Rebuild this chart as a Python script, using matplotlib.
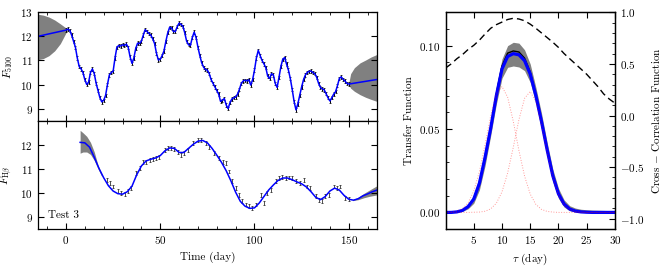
import numpy as np
import matplotlib
matplotlib.use("Agg")
import matplotlib.pyplot as plt
from matplotlib.ticker import MultipleLocator

plt.rcParams.update({
    "font.family": "serif",
    "font.serif": ["cmr10"],
    "mathtext.fontset": "cm",
    "axes.formatter.use_mathtext": True,
    "font.size": 8,
    "axes.linewidth": 0.9,
})

# continuum light curve, one point per day from day 0 to 150
t_cont = np.arange(0, 151)
f_cont = [12.26, 12.30, 12.25, 12.05, 11.80, 11.55, 11.10, 10.75, 10.65, 10.50,
          10.20, 10.00, 10.10, 10.50, 10.65, 10.45, 10.05, 9.75, 9.45, 9.28,
          9.35, 9.55, 10.00, 10.40, 10.50, 10.55, 11.10, 11.55, 11.62, 11.60,
          11.65, 11.62, 11.68, 11.55, 11.15, 10.88, 11.10, 11.50, 11.72, 11.70,
          11.80, 12.05, 12.28, 12.20, 12.12, 12.05, 11.90, 11.70, 11.30, 11.02,
          11.05, 11.20, 11.40, 11.80, 12.15, 12.38, 12.35, 12.20, 12.20, 12.40,
          12.55, 12.50, 12.42, 12.15, 11.80, 11.65, 11.62, 11.95, 12.18, 11.95,
          11.55, 11.20, 10.90, 10.72, 10.62, 10.60, 10.45, 10.20, 10.05, 9.90,
          9.75, 9.60, 9.30, 9.35, 9.42, 9.15, 9.00, 9.25, 9.40, 9.45,
          9.48, 9.60, 9.80, 10.05, 10.15, 10.18, 10.15, 10.20, 9.98, 10.20,
          10.60, 11.10, 11.42, 11.20, 11.00, 10.86, 10.70, 10.35, 10.25, 10.45,
          10.40, 10.05, 9.88, 10.30, 10.75, 11.05, 11.12, 10.85, 10.60, 10.25,
          9.80, 9.30, 8.95, 9.20, 9.55, 9.90, 10.20, 10.40, 10.50, 10.55,
          10.56, 10.50, 10.45, 10.30, 10.05, 9.88, 9.82, 9.78, 9.62, 9.45,
          9.32, 9.45, 9.60, 9.70, 9.95, 10.25, 10.32, 10.22, 10.15, 10.05,
          10.02]
err_cont = 0.07

# reconstruction end points outside the data
cont_left = (-15, 12.0)
cont_right = (165, 10.21)
band_l_t = [-15, -12, -9, -6, -3, 0, 1]
band_l_hi = [12.92, 12.88, 12.80, 12.68, 12.52, 12.35, 12.30]
band_l_lo = [11.03, 11.08, 11.20, 11.40, 11.70, 12.15, 12.30]
band_r_t = [150, 151, 153, 156, 159, 162, 165]
band_r_hi = [10.05, 10.45, 10.70, 10.90, 11.02, 11.15, 11.25]
band_r_lo = [10.00, 9.85, 9.72, 9.58, 9.47, 9.38, 9.30]

# H-beta data
t_hb = [21.5, 23.2, 25.0, 27.6, 29.4, 31.2, 32.9, 34.7, 37.3, 39.1, 40.8, 42.6,
        44.4, 46.1, 47.9, 49.6, 52.3, 54.0, 55.8, 57.5, 59.3, 61.1, 62.8, 64.6,
        67.2, 69.9, 71.6, 74.3, 76.0, 78.7, 81.3, 83.1, 84.8, 86.6, 88.3, 90.1,
        91.9, 93.6, 95.4, 97.1, 98.9, 100.7, 103.3, 105.1, 106.8, 108.6, 111.2,
        113.0, 114.7, 116.5, 118.3, 120.0, 121.8, 124.4, 126.2, 127.9, 129.7,
        132.4, 134.1, 135.8, 137.6, 139.4, 142.0, 143.8, 145.6, 148.2, 150.0]
f_hb = [10.55, 10.41, 10.27, 10.07, 10.00, 9.97, 10.07, 10.21, 10.82, 11.03, 11.30, 11.30,
        11.37, 11.40, 11.44, 11.48, 11.78, 11.88, 11.85, 11.82, 11.71, 11.58, 11.65, 11.78,
        12.06, 12.19, 12.19, 12.06, 11.92, 11.65, 11.44, 11.30, 11.23, 10.89, 10.48, 10.21,
        9.93, 9.65, 9.52, 9.45, 9.38, 9.52, 9.90, 9.59, 10.00, 10.14, 10.48,
        10.62, 10.66, 10.62, 10.64, 10.62, 10.48, 10.41, 10.55, 10.27, 10.21,
        9.86, 9.72, 9.68, 9.86, 9.93, 10.27, 10.21, 10.27, 9.79, 9.76]
err_hb = 0.08

# H-beta reconstruction
t_hb_mod = [7.5, 10, 12.5, 15, 17.5, 20, 22.5, 25, 27.5, 30, 32.5, 35, 37.5, 40,
            42.5, 45, 47.5, 50, 52.5, 55, 57.5, 60, 62.5, 65, 67.5, 70, 72.5, 75,
            77.5, 80, 82.5, 85, 87.5, 90, 92.5, 95, 97.5, 100, 102.5, 105, 107.5,
            110, 112.5, 115, 117.5, 120, 122.5, 125, 127.5, 130, 132.5, 135, 137.5,
            140, 142.5, 145, 147.5, 150, 152.5, 155, 157.5, 160, 162.5, 165]
f_hb_mod = [12.10, 12.08, 11.90, 11.48, 11.02, 10.63, 10.30, 10.08, 9.97, 9.95, 10.05,
            10.28, 10.75, 11.12, 11.33, 11.40, 11.45, 11.55, 11.75, 11.87, 11.85, 11.68,
            11.68, 11.85, 12.02, 12.15, 12.18, 12.08, 11.85, 11.57, 11.27, 10.92, 10.50,
            10.03, 9.65, 9.45, 9.36, 9.38, 9.58, 9.85, 10.12, 10.33, 10.52, 10.62, 10.62,
            10.55, 10.46, 10.38, 10.25, 10.05, 9.82, 9.72, 9.85, 10.08, 10.20, 10.12,
            9.90, 9.74, 9.70, 9.76, 9.88, 9.96, 10.05, 10.12]
hb_band_t = [7.5, 9, 11, 13, 15, 17, 19]
hb_band_hi = [12.60, 12.50, 12.35, 12.10, 11.70, 11.15, 10.78]
hb_band_lo = [11.65, 11.70, 11.70, 11.60, 11.35, 11.00, 10.68]
hb_band_t2 = [152, 155, 158, 161, 165]
hb_band_hi2 = [9.72, 9.82, 9.98, 10.12, 10.30]
hb_band_lo2 = [9.68, 9.72, 9.80, 9.86, 9.92]

# transfer function, one value per day of lag
tau = np.arange(0, 31)
tf_mean = [0.0, 0.0, 0.0003, 0.0012, 0.0035, 0.0080, 0.0175, 0.0330, 0.0505, 0.0700,
           0.0860, 0.0935, 0.0952, 0.0945, 0.0910, 0.0830, 0.0700, 0.0545, 0.0375, 0.0220,
           0.0112, 0.0050, 0.0020, 0.0008, 0.0003, 0.0001, 0.0, 0.0, 0.0, 0.0, 0.0]
tf_true = [0.0, 0.0, 0.0003, 0.0012, 0.0035, 0.0080, 0.0175, 0.0330, 0.0505, 0.0710,
           0.0878, 0.0955, 0.0968, 0.0962, 0.0925, 0.0842, 0.0708, 0.0545, 0.0375, 0.0220,
           0.0112, 0.0050, 0.0020, 0.0008, 0.0003, 0.0001, 0.0, 0.0, 0.0, 0.0, 0.0]
tf_lo = [0.0, 0.0, 0.0, 0.0006, 0.0022, 0.0055, 0.0135, 0.0280, 0.0460, 0.0650,
         0.0805, 0.0870, 0.0878, 0.0872, 0.0850, 0.0780, 0.0655, 0.0500, 0.0335, 0.0185,
         0.0085, 0.0032, 0.0010, 0.0003, 0.0, 0.0, 0.0, 0.0, 0.0, 0.0, 0.0]
tf_hi = [0.0003, 0.0004, 0.0007, 0.0019, 0.0048, 0.0105, 0.0215, 0.0380, 0.0555, 0.0755,
         0.0920, 0.1000, 0.1020, 0.1015, 0.0975, 0.0890, 0.0750, 0.0595, 0.0420, 0.0260,
         0.0145, 0.0075, 0.0040, 0.0026, 0.0019, 0.0016, 0.0014, 0.0013, 0.0012, 0.0011, 0.0010]
tf_comp1 = [0.0001, 0.0002, 0.0008, 0.0022, 0.0058, 0.0128, 0.0245, 0.0406, 0.0579, 0.0712,
            0.0755, 0.0691, 0.0546, 0.0371, 0.0218, 0.0110, 0.0048, 0.0018, 0.0006, 0.0002,
            0.0, 0.0, 0.0, 0.0, 0.0, 0.0, 0.0, 0.0, 0.0, 0.0, 0.0]
tf_comp2 = [0.0, 0.0, 0.0, 0.0, 0.0, 0.0001, 0.0002, 0.0007, 0.0021, 0.0055,
            0.0123, 0.0236, 0.0390, 0.0556, 0.0684, 0.0725, 0.0664, 0.0524, 0.0357, 0.0209,
            0.0106, 0.0046, 0.0017, 0.0006, 0.0002, 0.0, 0.0, 0.0, 0.0, 0.0, 0.0]
ccf = [0.46, 0.50, 0.55, 0.59, 0.64, 0.68, 0.73, 0.79, 0.845, 0.88,
       0.905, 0.93, 0.942, 0.935, 0.918, 0.885, 0.845, 0.80, 0.755, 0.71,
       0.66, 0.60, 0.55, 0.50, 0.45, 0.40, 0.34, 0.28, 0.21, 0.16, 0.12]

fig = plt.figure(figsize=(6.64, 2.67), dpi=100)
ax1 = fig.add_axes([0.0568, 0.548, 0.511, 0.406])
ax2 = fig.add_axes([0.0568, 0.142, 0.511, 0.406], sharex=ax1)
axr = fig.add_axes([0.671, 0.142, 0.255, 0.812])

# top: continuum
ax1.fill_between(band_l_t, band_l_lo, band_l_hi, color="gray", lw=0)
ax1.fill_between(band_r_t, band_r_lo, band_r_hi, color="gray", lw=0)
ax1.errorbar(t_cont, f_cont, yerr=err_cont, fmt="none", ecolor="k",
             elinewidth=0.7, capsize=0.8, capthick=0.5)
t_line = np.concatenate([[cont_left[0]], t_cont, [cont_right[0]]])
f_line = np.concatenate([[cont_left[1]], f_cont, [cont_right[1]]])
ax1.plot(t_line, f_line, color="blue", lw=1.1)
ax1.set_ylabel(r"$F_{5100}$")
ax1.set_ylim(8.5, 13)
ax1.set_yticks([9, 10, 11, 12, 13])
plt.setp(ax1.get_xticklabels(), visible=False)

# bottom: H-beta
ax2.fill_between(hb_band_t, hb_band_lo, hb_band_hi, color="gray", lw=0)
ax2.fill_between(hb_band_t2, hb_band_lo2, hb_band_hi2, color="gray", lw=0)
ax2.errorbar(t_hb, f_hb, yerr=err_hb, fmt="none", ecolor="0.2",
             elinewidth=0.6, capsize=1.0, capthick=0.6)
ax2.plot(t_hb_mod, f_hb_mod, color="blue", lw=1.1)
ax2.set_ylabel(r"$F_{\rm H\beta}$")
ax2.set_xlabel("Time (day)")
ax2.set_ylim(8.5, 13)
ax2.set_yticks([9, 10, 11, 12])
ax2.set_xlim(-15, 165)
ax2.xaxis.set_major_locator(MultipleLocator(50))
ax2.xaxis.set_minor_locator(MultipleLocator(10))
ax2.text(0.03, 0.1, "Test 3", transform=ax2.transAxes)

for ax in (ax1, ax2):
    ax.tick_params(which="both", direction="in", top=True, right=True)
    ax.tick_params(which="major", length=4)
    ax.tick_params(which="minor", length=2)

# right: transfer function and CCF
axr.fill_between(tau, tf_lo, tf_hi, color="gray", lw=0)
axr.plot(tau, tf_true, color="k", lw=1.0)
axr.plot(tau, tf_mean, color="blue", lw=2.3)
axr.plot(tau, tf_comp1, color="red", alpha=0.4, lw=0.7, ls=":")
axr.plot(tau, tf_comp2, color="red", alpha=0.4, lw=0.7, ls=":")
axr.set_xlim(0, 30)
axr.set_ylim(-0.01, 0.12)
axr.set_xticks([5, 10, 15, 20, 25, 30])
axr.set_yticks([0.0, 0.05, 0.10])
axr.yaxis.set_minor_locator(MultipleLocator(0.01))
axr.set_xlabel(r"$\tau$ (day)")
axr.set_ylabel("Transfer Function")
axr.tick_params(which="both", direction="in", top=True, right=False)
axr.tick_params(which="major", length=4)
axr.tick_params(which="minor", length=2)

axc = axr.twinx()
axc.plot(tau, ccf, color="k", lw=1.0, ls="--", dashes=(5, 3))
axc.set_ylim(-1.1, 1.0)
axc.set_yticks([-1.0, -0.5, 0.0, 0.5, 1.0])
axc.yaxis.set_minor_locator(MultipleLocator(0.1))
axc.set_ylabel(r"Cross $-$ Correlation Function")
axc.tick_params(which="both", direction="in")
axc.tick_params(which="major", length=4)
axc.tick_params(which="minor", length=2)

fig.savefig("out.png", dpi=100)
